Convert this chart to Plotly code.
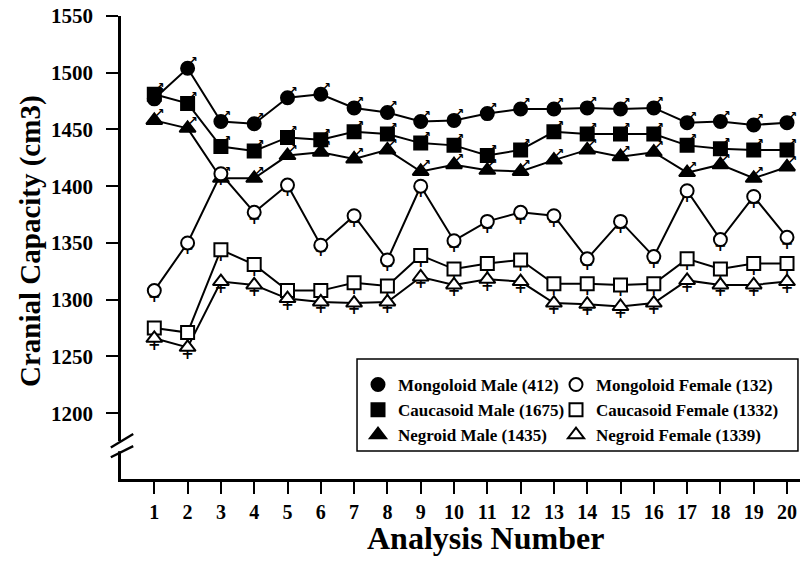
import plotly.graph_objects as go

analysis = list(range(1, 21))

mongoloid_male = [1477, 1504, 1457, 1455, 1478, 1481, 1469, 1465, 1457, 1458,
                  1464, 1468, 1468, 1469, 1468, 1469, 1456, 1457, 1454, 1456]
caucasoid_male = [1481, 1473, 1435, 1431, 1443, 1441, 1448, 1446, 1438, 1436,
                  1427, 1432, 1448, 1446, 1446, 1446, 1436, 1433, 1432, 1432]
negroid_male = [1458, 1451, 1407, 1407, 1427, 1430, 1424, 1432, 1413, 1419,
                1414, 1413, 1423, 1432, 1426, 1430, 1412, 1419, 1407, 1417]
mongoloid_female = [1308, 1350, 1411, 1377, 1401, 1348, 1374, 1335, 1400, 1352,
                    1369, 1377, 1374, 1336, 1369, 1338, 1396, 1353, 1391, 1355]
caucasoid_female = [1275, 1271, 1344, 1331, 1308, 1308, 1315, 1312, 1339, 1327,
                    1332, 1335, 1314, 1314, 1313, 1314, 1336, 1327, 1332, 1332]
negroid_female = [1266, 1258, 1316, 1313, 1301, 1298, 1297, 1298, 1320, 1313,
                  1318, 1316, 1297, 1296, 1294, 1297, 1317, 1313, 1313, 1316]

male_names = ["Mongoloid Male (412)", "Caucasoid Male (1675)", "Negroid Male (1435)"]
female_names = ["Mongoloid Female (132)", "Caucasoid Female (1332)", "Negroid Female (1339)"]

y_ticks = [1200, 1250, 1300, 1350, 1400, 1450, 1500, 1550]

x_title = "Analysis Number"
y_title = "Cranial Capacity (cm3)"

series = [
    (male_names[0], mongoloid_male, "circle", True),
    (male_names[1], caucasoid_male, "square", True),
    (male_names[2], negroid_male, "triangle-up", True),
    (female_names[0], mongoloid_female, "circle", False),
    (female_names[1], caucasoid_female, "square", False),
    (female_names[2], negroid_female, "triangle-up", False),
]

serif = "Liberation Serif"
fig = go.Figure()

# connecting lines
for name, vals, sym, male in series:
    fig.add_trace(go.Scatter(
        x=analysis, y=vals, mode="lines", showlegend=False, hoverinfo="skip",
        line=dict(color="black", width=2),
    ))

# sex glyph decorations (arrow for male, cross for female)
for name, vals, sym, male in series:
    fig.add_trace(go.Scatter(
        x=analysis, y=vals, mode="text", showlegend=False, hoverinfo="skip",
        text=["↗" if male else "+"] * len(vals),
        textposition="top right" if male else "bottom center",
        marker=dict(size=9 if male else 8),
        textfont=dict(family="DejaVu Sans", size=12 if male else 15,
                      color="black", weight="bold"),
    ))

# markers (with legend entries)
for name, vals, sym, male in series:
    size = 13 if sym != "triangle-up" else 14
    fig.add_trace(go.Scatter(
        x=analysis, y=vals, mode="markers", name=name,
        legend="legend" if male else "legend2",
        marker=dict(symbol=sym, size=size, color="black" if male else "white",
                    line=dict(color="black", width=2)),
    ))

# axis break marks (paper coordinates)
fig.add_shape(type="rect", xref="paper", yref="paper", x0=-0.006, x1=0.006,
              y0=0.060, y1=0.082, fillcolor="white", line=dict(width=0), layer="above")
fig.add_shape(type="line", xref="paper", yref="paper", x0=-0.015, x1=0.018,
              y0=0.068, y1=0.097, line=dict(color="black", width=2.4))
fig.add_shape(type="line", xref="paper", yref="paper", x0=-0.015, x1=0.018,
              y0=0.047, y1=0.071, line=dict(color="black", width=2.4))

# legend frame
fig.add_shape(type="rect", xref="paper", yref="paper", x0=0.3476, x1=0.997,
              y0=0.0605, y1=0.259, line=dict(color="black", width=1.5),
              fillcolor="rgba(0,0,0,0)", layer="above")

# axis titles
fig.add_annotation(text=x_title, xref="paper", yref="paper",
                   x=(485 - 121) / 679, y=(479 - 538) / 463,
                   xanchor="center", yanchor="middle", showarrow=False,
                   font=dict(family=serif, size=32, weight="bold", color="black"))
fig.add_annotation(text=y_title, xref="paper", yref="paper", textangle=-90,
                   x=(30 - 121) / 679, y=(479 - 241) / 463,
                   xanchor="center", yanchor="middle", showarrow=False,
                   font=dict(family=serif, size=29, weight="bold", color="black"))

legend_font = dict(family=serif, size=17, color="black", weight="bold")
legend_top = (479 - 367) / 463

fig.update_layout(
    width=802, height=564,
    margin=dict(l=121, r=2, t=16, b=85),
    paper_bgcolor="white", plot_bgcolor="white",
    font=dict(family=serif, color="black"),
    showlegend=True,
    legend=dict(
        x=(358 - 121) / 679, y=legend_top, xanchor="left", yanchor="top",
        bgcolor="rgba(0,0,0,0)", borderwidth=0, font=legend_font,
        traceorder="normal", tracegroupgap=0,
    ),
    legend2=dict(
        x=(556 - 121) / 679, y=legend_top, xanchor="left", yanchor="top",
        bgcolor="rgba(0,0,0,0)", borderwidth=0, font=legend_font,
        traceorder="normal", tracegroupgap=0,
    ),
    xaxis=dict(
        range=[0, 20.39], tickvals=analysis, ticks="outside", ticklen=12,
        tickwidth=2, tickcolor="black", showline=True, linecolor="black",
        linewidth=2.5, showgrid=False, zeroline=False, automargin=False,
        ticklabelstandoff=1,
        tickfont=dict(family=serif, size=20, weight="bold"),
    ),
    yaxis=dict(
        range=[1142, 1550], tickvals=y_ticks, ticks="outside", ticklen=12,
        tickwidth=2, tickcolor="black", showline=True, linecolor="black",
        linewidth=2.5, showgrid=False, zeroline=False, automargin=False,
        ticklabelstandoff=9,
        tickfont=dict(family=serif, size=21, weight="bold"),
    ),
)

fig.write_html(
    "out.html",
    config={"displayModeBar": False},
    post_script="document.body.style.margin='0px';document.body.style.overflow='hidden';",
)
